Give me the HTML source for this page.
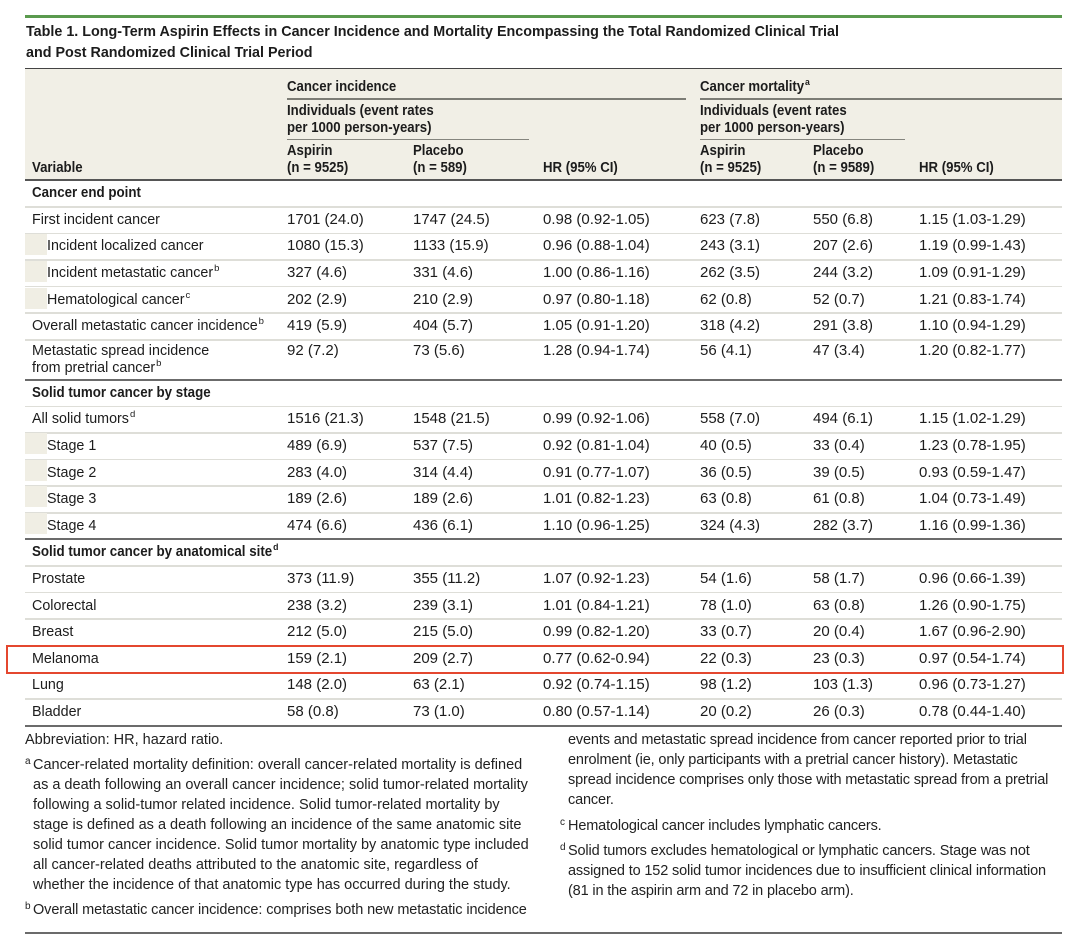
<!DOCTYPE html>
<html>
<head>
<meta charset="utf-8">
<style>
  html,body{margin:0;padding:0;background:#fff;}
  body{width:1080px;height:942px;position:relative;overflow:hidden;font-family:"Liberation Sans",Arial,sans-serif;color:#1c1c1c;}
  .abs{position:absolute;}
  .title{position:absolute;left:26px;font-weight:bold;font-size:15px;line-height:21.5px;white-space:nowrap;}
  .title span{display:inline-block;transform:scaleX(0.955);transform-origin:0 0;}
  .hdr{position:absolute;font-weight:bold;font-size:14.5px;line-height:16.5px;white-space:nowrap;}
  .hdr span.s{display:inline-block;transform:scaleX(0.91);transform-origin:0 0;}
  .line{position:absolute;}
  .row{position:absolute;left:0;width:1080px;}
  .row .c{position:absolute;top:0;white-space:nowrap;}
  .lb{font-size:14.3px;}
  .nm{font-size:15px;}
  .bl{font-weight:bold;font-size:14.5px;}
  .bl span{display:inline-block;transform:scaleX(0.92);transform-origin:0 0;}
  .c0{left:32px;} .ci{left:47px;}
  .c1{left:287px;} .c2{left:413px;} .c3{left:543px;}
  .c4{left:700px;} .c5{left:813px;} .c6{left:919px;}
  .blk{position:absolute;left:25px;top:0;width:22px;height:21px;background:#f0eee4;}
  sup{font-size:9.5px;vertical-align:6px;line-height:0;margin-left:1px;}
  .fn{position:absolute;font-size:14.5px;line-height:20px;white-space:nowrap;color:#222;}
  .fn sup{position:absolute;left:-8px;top:0;font-size:10px;vertical-align:0;line-height:14px;margin:0;}
  .fnr{letter-spacing:-0.15px;}
</style>
</head>
<body>

<!-- green top rule -->
<div class="abs" style="left:25px;top:14.5px;width:1037px;height:3px;background:#5a9a4e;"></div>

<!-- title -->
<div class="title" style="top:20.5px;"><span>Table 1. Long-Term Aspirin Effects in Cancer Incidence and Mortality Encompassing the Total Randomized Clinical Trial</span></div>
<div class="title" style="top:42px;"><span>and Post Randomized Clinical Trial Period</span></div>

<!-- header background -->
<div class="abs" style="left:25px;top:68px;width:1037px;height:112px;background:#f1efe6;"></div>
<div class="line" style="left:25px;top:67.5px;width:1037px;height:1.5px;background:#444;"></div>

<!-- header group lines -->
<div class="line" style="left:287px;top:97.5px;width:399px;height:2px;background:#7c7c75;"></div>
<div class="line" style="left:700px;top:97.5px;width:362px;height:2px;background:#7c7c75;"></div>
<div class="line" style="left:287px;top:138.5px;width:242px;height:1.5px;background:#85857e;"></div>
<div class="line" style="left:700px;top:138.5px;width:205px;height:1.5px;background:#85857e;"></div>

<!-- header text -->
<div class="hdr" style="left:287px;top:78.7px;"><span class="s">Cancer incidence</span></div>
<div class="hdr" style="left:700px;top:78.7px;"><span class="s">Cancer mortality<sup>a</sup></span></div>

<div class="hdr" style="left:287px;top:103.2px;"><span class="s">Individuals (event rates<br>per 1000 person-years)</span></div>
<div class="hdr" style="left:700px;top:103.2px;"><span class="s">Individuals (event rates<br>per 1000 person-years)</span></div>

<div class="hdr" style="left:287px;top:143.2px;"><span class="s">Aspirin<br>(n = 9525)</span></div>
<div class="hdr" style="left:413px;top:143.2px;"><span class="s">Placebo<br>(n = 589)</span></div>
<div class="hdr" style="left:700px;top:143.2px;"><span class="s">Aspirin<br>(n = 9525)</span></div>
<div class="hdr" style="left:813px;top:143.2px;"><span class="s">Placebo<br>(n = 9589)</span></div>

<div class="hdr" style="left:32px;top:159.7px;"><span class="s">Variable</span></div>
<div class="hdr" style="left:543px;top:159.7px;"><span class="s">HR (95% CI)</span></div>
<div class="hdr" style="left:919px;top:159.7px;"><span class="s">HR (95% CI)</span></div>

<!-- header bottom rule -->
<div class="line" style="left:25px;top:179px;width:1037px;height:2px;background:#555;"></div>

<!-- thin row separators -->
<div class="line" style="left:25px;top:206px;width:1037px;height:1.5px;background:#deded8;"></div>
<div class="line" style="left:25px;top:232.6px;width:1037px;height:1.5px;background:#deded8;"></div>
<div class="line" style="left:25px;top:259.2px;width:1037px;height:1.5px;background:#deded8;"></div>
<div class="line" style="left:25px;top:285.8px;width:1037px;height:1.5px;background:#deded8;"></div>
<div class="line" style="left:25px;top:312.4px;width:1037px;height:1.5px;background:#deded8;"></div>
<div class="line" style="left:25px;top:339px;width:1037px;height:1.5px;background:#deded8;"></div>
<div class="line" style="left:25px;top:378.8px;width:1037px;height:2px;background:#6b6b6b;"></div>
<div class="line" style="left:25px;top:405.6px;width:1037px;height:1.5px;background:#deded8;"></div>
<div class="line" style="left:25px;top:432.2px;width:1037px;height:1.5px;background:#deded8;"></div>
<div class="line" style="left:25px;top:458.8px;width:1037px;height:1.5px;background:#deded8;"></div>
<div class="line" style="left:25px;top:485.4px;width:1037px;height:1.5px;background:#deded8;"></div>
<div class="line" style="left:25px;top:512px;width:1037px;height:1.5px;background:#deded8;"></div>
<div class="line" style="left:25px;top:538.4px;width:1037px;height:2px;background:#6b6b6b;"></div>
<div class="line" style="left:25px;top:565.2px;width:1037px;height:1.5px;background:#deded8;"></div>
<div class="line" style="left:25px;top:591.8px;width:1037px;height:1.5px;background:#deded8;"></div>
<div class="line" style="left:25px;top:618.4px;width:1037px;height:1.5px;background:#deded8;"></div>
<div class="line" style="left:25px;top:645px;width:1037px;height:1.5px;background:#deded8;"></div>
<div class="line" style="left:25px;top:671.6px;width:1037px;height:1.5px;background:#deded8;"></div>
<div class="line" style="left:25px;top:698.2px;width:1037px;height:1.5px;background:#deded8;"></div>
<div class="line" style="left:25px;top:724.6px;width:1037px;height:2px;background:#6b6b6b;"></div>

<!-- rows -->
<div class="row" style="top:180px;height:26.7px;line-height:26.7px;">
  <span class="c c0 bl"><span>Cancer end point</span></span>
</div>

<div class="row" style="top:206.7px;height:26.6px;line-height:26.6px;">
  <span class="c c0 lb">First incident cancer</span>
  <span class="c c1 nm">1701 (24.0)</span><span class="c c2 nm">1747 (24.5)</span><span class="c c3 nm">0.98 (0.92-1.05)</span>
  <span class="c c4 nm">623 (7.8)</span><span class="c c5 nm">550 (6.8)</span><span class="c c6 nm">1.15 (1.03-1.29)</span>
</div>

<div class="row" style="top:233.3px;height:26.6px;line-height:26.6px;">
  <i class="blk" style="top:1px;"></i>
  <span class="c ci lb">Incident localized cancer</span>
  <span class="c c1 nm">1080 (15.3)</span><span class="c c2 nm">1133 (15.9)</span><span class="c c3 nm">0.96 (0.88-1.04)</span>
  <span class="c c4 nm">243 (3.1)</span><span class="c c5 nm">207 (2.6)</span><span class="c c6 nm">1.19 (0.99-1.43)</span>
</div>

<div class="row" style="top:259.9px;height:26.6px;line-height:26.6px;">
  <i class="blk" style="top:1px;"></i>
  <span class="c ci lb">Incident metastatic cancer<sup>b</sup></span>
  <span class="c c1 nm">327 (4.6)</span><span class="c c2 nm">331 (4.6)</span><span class="c c3 nm">1.00 (0.86-1.16)</span>
  <span class="c c4 nm">262 (3.5)</span><span class="c c5 nm">244 (3.2)</span><span class="c c6 nm">1.09 (0.91-1.29)</span>
</div>

<div class="row" style="top:286.5px;height:26.6px;line-height:26.6px;">
  <i class="blk" style="top:1px;"></i>
  <span class="c ci lb">Hematological cancer<sup>c</sup></span>
  <span class="c c1 nm">202 (2.9)</span><span class="c c2 nm">210 (2.9)</span><span class="c c3 nm">0.97 (0.80-1.18)</span>
  <span class="c c4 nm">62 (0.8)</span><span class="c c5 nm">52 (0.7)</span><span class="c c6 nm">1.21 (0.83-1.74)</span>
</div>

<div class="row" style="top:313.1px;height:26.6px;line-height:26.6px;">
  <span class="c c0 lb">Overall metastatic cancer incidence<sup>b</sup></span>
  <span class="c c1 nm">419 (5.9)</span><span class="c c2 nm">404 (5.7)</span><span class="c c3 nm">1.05 (0.91-1.20)</span>
  <span class="c c4 nm">318 (4.2)</span><span class="c c5 nm">291 (3.8)</span><span class="c c6 nm">1.10 (0.94-1.29)</span>
</div>

<div class="row" style="top:343.3px;height:36px;line-height:16.6px;">
  <span class="c c0 lb">Metastatic spread incidence<br>from pretrial cancer<sup>b</sup></span>
  <span class="c c1 nm">92 (7.2)</span><span class="c c2 nm">73 (5.6)</span><span class="c c3 nm">1.28 (0.94-1.74)</span>
  <span class="c c4 nm">56 (4.1)</span><span class="c c5 nm">47 (3.4)</span><span class="c c6 nm">1.20 (0.82-1.77)</span>
</div>

<div class="row" style="top:379.7px;height:26.6px;line-height:26.6px;">
  <span class="c c0 bl"><span>Solid tumor cancer by stage</span></span>
</div>

<div class="row" style="top:406.3px;height:26.6px;line-height:26.6px;">
  <span class="c c0 lb">All solid tumors<sup>d</sup></span>
  <span class="c c1 nm">1516 (21.3)</span><span class="c c2 nm">1548 (21.5)</span><span class="c c3 nm">0.99 (0.92-1.06)</span>
  <span class="c c4 nm">558 (7.0)</span><span class="c c5 nm">494 (6.1)</span><span class="c c6 nm">1.15 (1.02-1.29)</span>
</div>

<div class="row" style="top:432.9px;height:26.6px;line-height:26.6px;">
  <i class="blk" style="top:0px;"></i>
  <span class="c ci lb">Stage 1</span>
  <span class="c c1 nm">489 (6.9)</span><span class="c c2 nm">537 (7.5)</span><span class="c c3 nm">0.92 (0.81-1.04)</span>
  <span class="c c4 nm">40 (0.5)</span><span class="c c5 nm">33 (0.4)</span><span class="c c6 nm">1.23 (0.78-1.95)</span>
</div>

<div class="row" style="top:459.5px;height:26.6px;line-height:26.6px;">
  <i class="blk" style="top:0px;"></i>
  <span class="c ci lb">Stage 2</span>
  <span class="c c1 nm">283 (4.0)</span><span class="c c2 nm">314 (4.4)</span><span class="c c3 nm">0.91 (0.77-1.07)</span>
  <span class="c c4 nm">36 (0.5)</span><span class="c c5 nm">39 (0.5)</span><span class="c c6 nm">0.93 (0.59-1.47)</span>
</div>

<div class="row" style="top:486.1px;height:26.6px;line-height:26.6px;">
  <i class="blk" style="top:0px;"></i>
  <span class="c ci lb">Stage 3</span>
  <span class="c c1 nm">189 (2.6)</span><span class="c c2 nm">189 (2.6)</span><span class="c c3 nm">1.01 (0.82-1.23)</span>
  <span class="c c4 nm">63 (0.8)</span><span class="c c5 nm">61 (0.8)</span><span class="c c6 nm">1.04 (0.73-1.49)</span>
</div>

<div class="row" style="top:512.7px;height:26.6px;line-height:26.6px;">
  <i class="blk" style="top:0px;"></i>
  <span class="c ci lb">Stage 4</span>
  <span class="c c1 nm">474 (6.6)</span><span class="c c2 nm">436 (6.1)</span><span class="c c3 nm">1.10 (0.96-1.25)</span>
  <span class="c c4 nm">324 (4.3)</span><span class="c c5 nm">282 (3.7)</span><span class="c c6 nm">1.16 (0.99-1.36)</span>
</div>

<div class="row" style="top:539.3px;height:26.6px;line-height:26.6px;">
  <span class="c c0 bl"><span>Solid tumor cancer by anatomical site<sup>d</sup></span></span>
</div>

<div class="row" style="top:565.9px;height:26.6px;line-height:26.6px;">
  <span class="c c0 lb">Prostate</span>
  <span class="c c1 nm">373 (11.9)</span><span class="c c2 nm">355 (11.2)</span><span class="c c3 nm">1.07 (0.92-1.23)</span>
  <span class="c c4 nm">54 (1.6)</span><span class="c c5 nm">58 (1.7)</span><span class="c c6 nm">0.96 (0.66-1.39)</span>
</div>

<div class="row" style="top:592.5px;height:26.6px;line-height:26.6px;">
  <span class="c c0 lb">Colorectal</span>
  <span class="c c1 nm">238 (3.2)</span><span class="c c2 nm">239 (3.1)</span><span class="c c3 nm">1.01 (0.84-1.21)</span>
  <span class="c c4 nm">78 (1.0)</span><span class="c c5 nm">63 (0.8)</span><span class="c c6 nm">1.26 (0.90-1.75)</span>
</div>

<div class="row" style="top:619.1px;height:26.6px;line-height:26.6px;">
  <span class="c c0 lb">Breast</span>
  <span class="c c1 nm">212 (5.0)</span><span class="c c2 nm">215 (5.0)</span><span class="c c3 nm">0.99 (0.82-1.20)</span>
  <span class="c c4 nm">33 (0.7)</span><span class="c c5 nm">20 (0.4)</span><span class="c c6 nm">1.67 (0.96-2.90)</span>
</div>

<div class="row" style="top:645.7px;height:26.6px;line-height:26.6px;">
  <span class="c c0 lb">Melanoma</span>
  <span class="c c1 nm">159 (2.1)</span><span class="c c2 nm">209 (2.7)</span><span class="c c3 nm">0.77 (0.62-0.94)</span>
  <span class="c c4 nm">22 (0.3)</span><span class="c c5 nm">23 (0.3)</span><span class="c c6 nm">0.97 (0.54-1.74)</span>
</div>

<div class="row" style="top:672.3px;height:26.6px;line-height:26.6px;">
  <span class="c c0 lb">Lung</span>
  <span class="c c1 nm">148 (2.0)</span><span class="c c2 nm">63 (2.1)</span><span class="c c3 nm">0.92 (0.74-1.15)</span>
  <span class="c c4 nm">98 (1.2)</span><span class="c c5 nm">103 (1.3)</span><span class="c c6 nm">0.96 (0.73-1.27)</span>
</div>

<div class="row" style="top:698.9px;height:26.6px;line-height:26.6px;">
  <span class="c c0 lb">Bladder</span>
  <span class="c c1 nm">58 (0.8)</span><span class="c c2 nm">73 (1.0)</span><span class="c c3 nm">0.80 (0.57-1.14)</span>
  <span class="c c4 nm">20 (0.2)</span><span class="c c5 nm">26 (0.3)</span><span class="c c6 nm">0.78 (0.44-1.40)</span>
</div>

<!-- red highlight box -->
<div class="abs" style="left:6px;top:645px;width:1058px;height:29px;box-sizing:border-box;border:2px solid #e4472f;"></div>

<!-- footnotes left column -->
<div class="fn" style="left:25px;top:730.3px;">Abbreviation: HR, hazard ratio.</div>
<div class="fn" style="left:33px;top:754.6px;"><sup>a</sup>Cancer-related mortality definition: overall cancer-related mortality is defined<br>as a death following an overall cancer incidence; solid tumor-related mortality<br>following a solid-tumor related incidence. Solid tumor-related mortality by<br>stage is defined as a death following an incidence of the same anatomic site<br>solid tumor cancer incidence. Solid tumor mortality by anatomic type included<br>all cancer-related deaths attributed to the anatomic site, regardless of<br>whether the incidence of that anatomic type has occurred during the study.</div>
<div class="fn" style="left:33px;top:900.3px;letter-spacing:-0.1px;"><sup>b</sup>Overall metastatic cancer incidence: comprises both new metastatic incidence</div>

<!-- footnotes right column -->
<div class="fn fnr" style="left:568px;top:730.3px;">events and metastatic spread incidence from cancer reported prior to trial<br>enrolment (ie, only participants with a pretrial cancer history). Metastatic<br>spread incidence comprises only those with metastatic spread from a pretrial<br>cancer.</div>
<div class="fn fnr" style="left:568px;top:815.5px;"><sup>c</sup>Hematological cancer includes lymphatic cancers.</div>
<div class="fn fnr" style="left:568px;top:840.5px;"><sup>d</sup>Solid tumors excludes hematological or lymphatic cancers. Stage was not<br>assigned to 152 solid tumor incidences due to insufficient clinical information<br>(81 in the aspirin arm and 72 in placebo arm).</div>

<!-- bottom rule -->
<div class="line" style="left:25px;top:931.5px;width:1037px;height:2px;background:#6b6b6b;"></div>

</body>
</html>
